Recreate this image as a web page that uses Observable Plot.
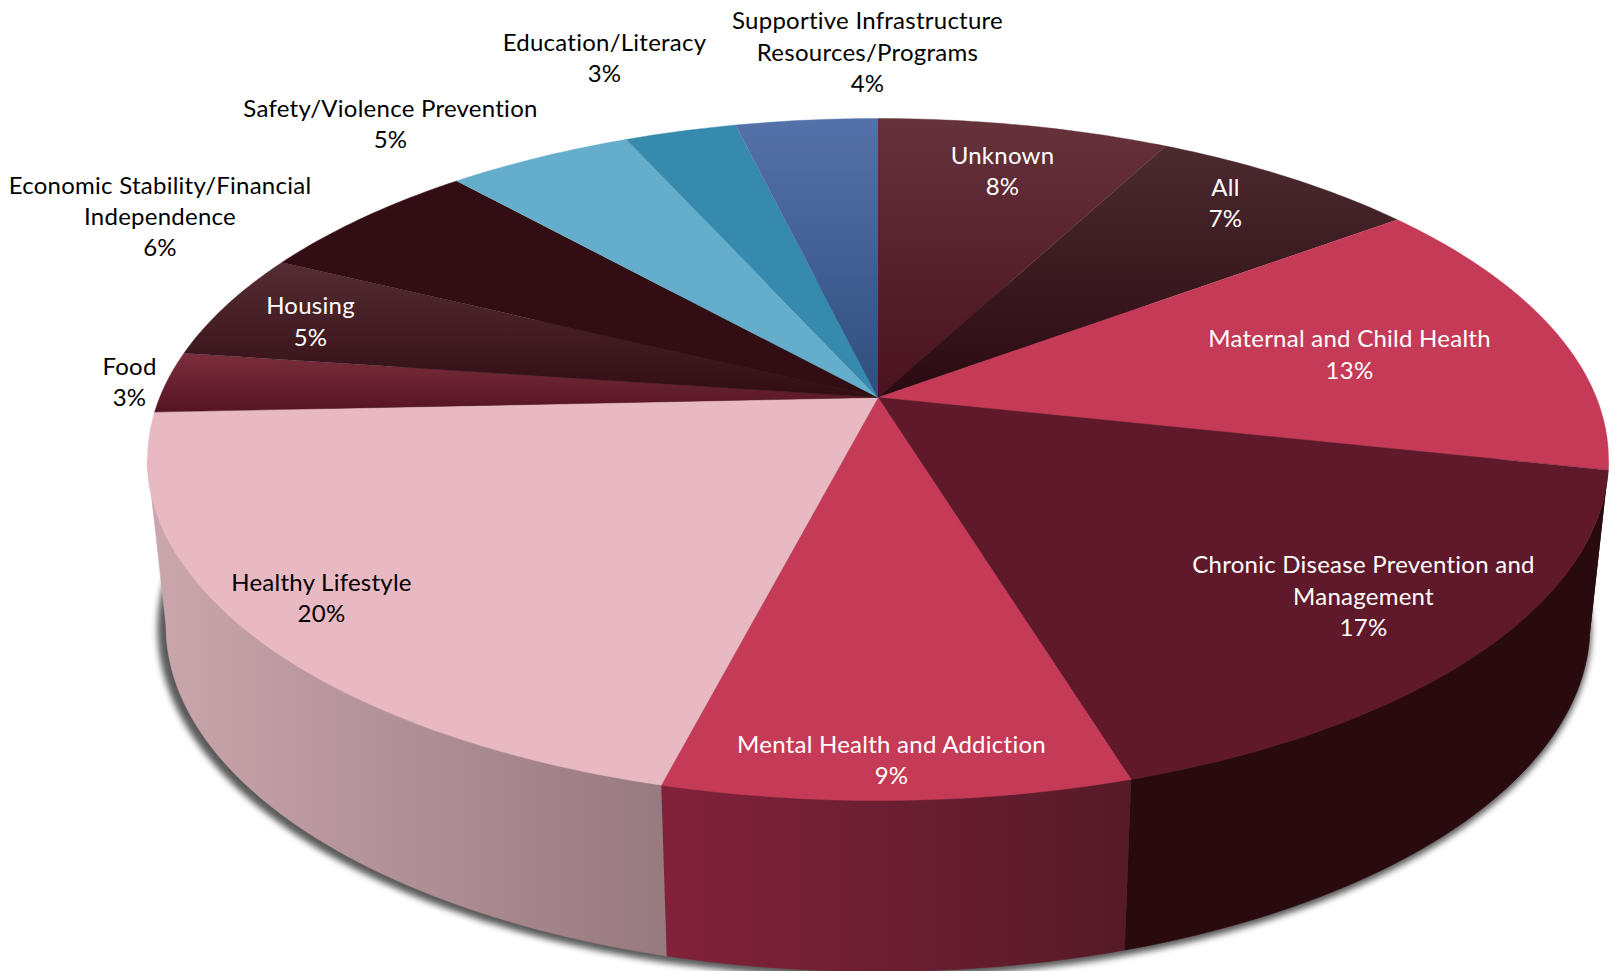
<!DOCTYPE html>
<html>
<head>
<meta charset="utf-8">
<script src="https://cdn.jsdelivr.net/npm/d3@7"></script>
<script src="https://cdn.jsdelivr.net/npm/@observablehq/plot@0.6"></script>
<style>
html,body{margin:0;padding:0;background:#fff;overflow:hidden}
svg{display:block}
svg text{letter-spacing:0.25px}
</style>
</head>
<body>
<div id="chart"></div>
<script>
// ---- data: slices clockwise from 12 o'clock
const categories = ["Unknown","All","Maternal and Child Health","Chronic Disease Prevention and Management","Mental Health and Addiction","Healthy Lifestyle","Food","Housing","Economic Stability/Financial Independence","Safety/Violence Prevention","Education/Literacy","Supportive Infrastructure Resources/Programs"];
const shares = [7.7,7.1,13.6,16.9,8.7,20.3,2.9,5.1,6.1,4.9,2.95,3.75];   // read from slice boundaries
const printedPercent = [8,7,13,17,9,20,3,5,6,5,3,4];
const labelLines = ["Unknown","All","Maternal and Child Health","Chronic Disease Prevention and\nManagement","Mental Health and Addiction","Healthy Lifestyle","Food","Housing","Economic Stability/Financial\nIndependence","Safety/Violence Prevention","Education/Literacy","Supportive Infrastructure\nResources/Programs"];
const faceColors = ["g:#66323c:#49121e","g:#4b2a30:#2a0a10","#c53a56","#60192a","#c53a56","#e9b9c3","g:#7c2e3e:#541422","g:#552c34:#320d14","#330d14","#65aecb","#358aae","g:#5571a9:#2f4f7e"];
const sideColors = [null,null,null,"#290a0f","h:#82223a:#551a28","h:#cba6ad:#977980",null,null,null,null,null,null];

// ---- layout
const W = 1613, H = 971;
const cx = 877.5, upper = {cy:459, rx:730.5, ry:341}, lower = {cy:625, rx:712, ry:346};
const tilt = -0.1818;  // perspective shift of the pie's centre in the ellipse
const labelX = [1002,1225,1349,1363,891,321,129,310,159.5,390,604,867];
const labelY = [169,201,352.5,594,758,596,380,319.5,214.5,122,56,50];
const isDarkFace = [true,true,true,true,true,false,false,true,false,false,false,false];

// perspective map from fraction of the pie to the ellipse
function project(frac, lev) {
  const t = frac * 2 * Math.PI, x = Math.sin(t), y = -Math.cos(t);
  const d = 1 + tilt * y;
  const X = x * Math.sqrt(1 - tilt * tilt) / d, Y = (y + tilt) / d;
  return {px: cx + X * lev.rx, py: lev.cy + Y * lev.ry};
}
function arc(a, b, lev) {
  const n = Math.max(2, Math.ceil((b - a) * 400));
  return d3.range(n + 1).map(i => project(a + (b - a) * i / n, lev));
}
const total = d3.sum(shares);
const edges = [0, ...d3.cumsum(shares).map(v => v / total)];
const hub = {px: cx, py: upper.cy + tilt * upper.ry};
// fractions at which the ellipse is widest: the drum's silhouette
const widest = Math.acos(tilt) / (2 * Math.PI);
const sideFrom = widest, sideTo = 1 - widest;

// gradients
const gradId = i => `pie-grad-${i}`;
const paint = (spec, id) => /^[gh]:/.test(spec) ? `url(#${id})` : spec;
function defsMark() {
  const defs = d3.create("svg:defs");
  const add = (spec, id) => {
    if (!spec || !/^[gh]:/.test(spec)) return;
    const [kind, c0, c1] = spec.split(":");
    const g = defs.append("linearGradient").attr("id", id)
      .attr("x1", 0).attr("y1", 0)
      .attr("x2", kind === "h" ? 1 : 0).attr("y2", kind === "h" ? 0 : 1);
    g.append("stop").attr("offset", 0).attr("stop-color", c0);
    g.append("stop").attr("offset", 1).attr("stop-color", c1);
  };
  faceColors.forEach((s, i) => add(s, gradId("f" + i)));
  sideColors.forEach((s, i) => add(s, gradId("s" + i)));
  return defs.node();
}

const marks = [defsMark];

// soft shadow under the drum
const shadow = d3.range(241).map(i => {
  const t = i / 240 * 2 * Math.PI;
  return {px: 874 + 717 * Math.cos(t), py: 628 + 349 * Math.sin(t)};
});
marks.push(Plot.line(shadow, {x:"px", y:"py", fill:"#5a5a5a", stroke:"none", imageFilter:"blur(3px)"}));

// right flank: the sliver of drum above the Chronic slice's start
const rightFlank = [...arc(sideFrom, edges[3], upper), ...arc(sideFrom, edges[3], lower).reverse()];
marks.push(Plot.line(rightFlank, {x:"px", y:"py", fill:sideColors[3], stroke:"none"}));

// sides, only as far as the silhouette
categories.forEach((c, i) => {
  if (!sideColors[i]) return;
  const f = paint(sideColors[i], gradId("s" + i));
  const a = Math.max(edges[i], sideFrom), b = Math.min(edges[i + 1], sideTo);
  const pts = [...arc(a, b, upper), ...arc(a, b, lower).reverse()];
  marks.push(Plot.line(pts, {x:"px", y:"py", fill:f, stroke:f, strokeWidth:0.6}));
});

// top faces
categories.forEach((c, i) => {
  const f = paint(faceColors[i], gradId("f" + i));
  const pts = [hub, ...arc(edges[i], edges[i + 1], upper)];
  marks.push(Plot.line(pts, {x:"px", y:"py", fill:f, stroke:f, strokeWidth:0.4}));
});

// labels
const labels = categories.map((c, i) => ({
  text: `${labelLines[i]}\n${printedPercent[i]}%`,
  x: labelX[i], y: labelY[i], dark: isDarkFace[i]
}));
const textOpts = {x:"x", y:"y", text:"text", textAnchor:"middle", lineAnchor:"middle", lineHeight:1.305, fontSize:24};
marks.push(Plot.text(labels.filter(d => d.dark), {...textOpts, fill:"#fff"}));
marks.push(Plot.text(labels.filter(d => !d.dark), {...textOpts, fill:"#000"}));

const chart = Plot.plot({
  width: W, height: H,
  margin: 0,
  x: {domain:[0, W], range:[0, W], axis:null},
  y: {domain:[0, H], range:[0, H], axis:null},
  style: {background:"#fff", fontFamily:"Lato, sans-serif"},
  marks
});
document.getElementById("chart").append(chart);
</script>
</body>
</html>
